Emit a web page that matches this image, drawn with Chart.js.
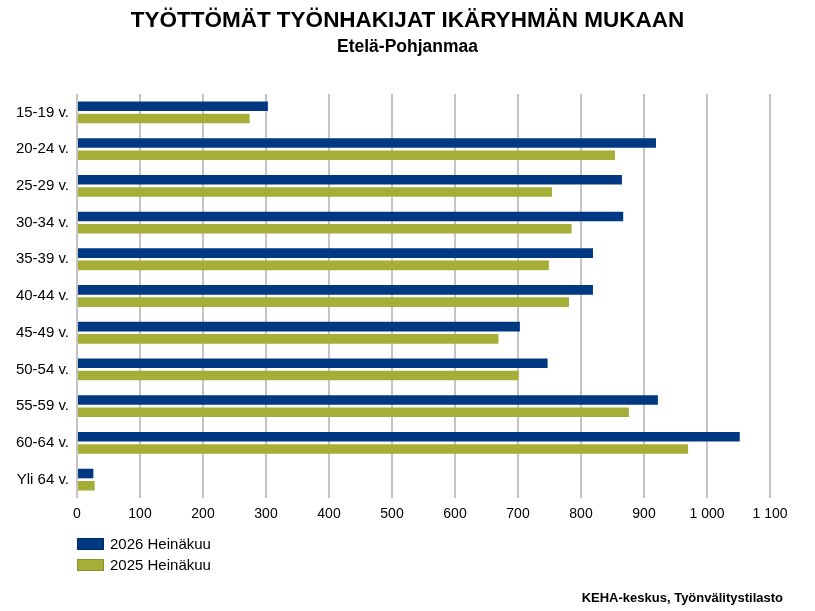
<!DOCTYPE html>
<html lang="fi">
<head>
<meta charset="utf-8">
<title>Työttömät työnhakijat ikäryhmän mukaan</title>
<script src="https://cdn.jsdelivr.net/npm/chart.js@4.4.1/dist/chart.umd.min.js"></script>
<style>
  html, body { margin: 0; padding: 0; background: #fff; }
  #wrap { position: relative; width: 815px; height: 611px; font-family: "Liberation Sans", Arial, sans-serif; }
  #legend { position: absolute; left: 77px; top: 533px; font-size: 15px; color: #000; }
  .item { display: flex; align-items: center; height: 21px; }
  .box { width: 25px; height: 10px; margin-right: 6px; }
  #source { position: absolute; right: 32px; top: 590px; font-size: 13px; font-weight: bold; color: #000; }
</style>
</head>
<body>
<div id="wrap">
  <canvas id="chart"></canvas>
  <div id="legend"></div>
  <div id="source">KEHA-keskus, Työnvälitystilasto</div>
</div>
<script>
'use strict';

// ikäryhmät ja arvot luettu kuvasta
const categories = ['15-19 v.', '20-24 v.', '25-29 v.', '30-34 v.', '35-39 v.', '40-44 v.',
  '45-49 v.', '50-54 v.', '55-59 v.', '60-64 v.', 'Yli 64 v.'];
const values2026 = [303, 919, 865, 867, 819, 819, 703, 747, 922, 1052, 26];
const values2025 = [274, 854, 754, 785, 749, 781, 669, 701, 876, 970, 28];
const seriesLabels = ['2026 Heinäkuu', '2025 Heinäkuu'];
const seriesColors = ['#003882', '#a5ae36'];
const seriesBorders = ['#002a66', '#8a9228'];

const fontFamily = '"Liberation Sans", Arial, sans-serif';

function spaced(v) {
  return String(v).replace(/\B(?=(\d{3})+(?!\d))/g, ' ');
}

const ctx = document.getElementById('chart');

new Chart(ctx, {
  type: 'bar',
  data: {
    labels: categories,
    datasets: [{
      label: seriesLabels[0],
      data: values2026,
      backgroundColor: seriesColors[0]
    }, {
      label: seriesLabels[1],
      data: values2025,
      backgroundColor: seriesColors[1]
    }]
  },
  options: {
    indexAxis: 'y',
    responsive: true,
    maintainAspectRatio: false,
    animation: false,
    datasets: {
      bar: { categoryPercentage: 0.667, barPercentage: 0.78 }
    },
    layout: {
      padding: { left: 0, right: 0, top: 0, bottom: 83 }
    },
    plugins: {
      legend: { display: false },
      tooltip: { enabled: false },
      title: {
        display: true,
        text: 'TYÖTTÖMÄT TYÖNHAKIJAT IKÄRYHMÄN MUKAAN',
        color: '#000',
        font: { family: fontFamily, size: 22.5, weight: 'bold' },
        padding: { top: 7, bottom: 3 }
      },
      subtitle: {
        display: true,
        text: 'Etelä-Pohjanmaa',
        color: '#000',
        font: { family: fontFamily, size: 17.5, weight: 'bold' },
        padding: { top: 0, bottom: 36 }
      }
    },
    scales: {
      x: {
        min: 0,
        max: 1100,
        ticks: {
          stepSize: 100,
          color: '#000',
          padding: 8,
          font: { family: fontFamily, size: 14 },
          callback: v => spaced(v)
        },
        grid: { color: '#c4c4c4', lineWidth: 2, drawTicks: false },
        border: { display: false },
        afterFit: scale => { scale.width = scale.width; scale.height = 30; }
      },
      y: {
        ticks: {
          color: '#000',
          padding: 8,
          font: { family: fontFamily, size: 15 }
        },
        grid: { display: false, drawTicks: false },
        border: { display: false },
        afterFit: scale => { scale.width = 77; }
      },
      // tyhjä oikea akseli pitää piirtoalueen oikean reunan paikallaan
      yRight: {
        type: 'linear',
        position: 'right',
        grid: { display: false, drawTicks: false },
        ticks: { display: false },
        border: { display: false },
        afterFit: scale => { scale.width = 45; }
      }
    }
  }
});

// selite
const legend = document.getElementById('legend');
seriesLabels.forEach((lab, i) => {
  const item = document.createElement('div');
  item.className = 'item';
  const box = document.createElement('span');
  box.className = 'box';
  box.style.background = seriesColors[i];
  box.style.border = '1px solid ' + seriesBorders[i];
  item.appendChild(box);
  item.appendChild(document.createTextNode(lab));
  legend.appendChild(item);
});
</script>
</body>
</html>
